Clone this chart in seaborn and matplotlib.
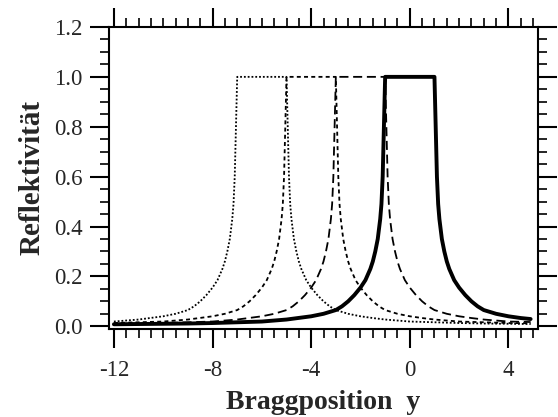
import matplotlib
matplotlib.use("Agg")
import matplotlib.pyplot as plt
import seaborn as sns
import pandas as pd
from matplotlib.ticker import MultipleLocator, FormatStrFormatter

# Curve A: solid thick, total reflection between -1 and 1
x_solid = [-12, -11, -10, -9, -8, -7, -6, -5, -4, -3.5, -3, -2.75, -2.5, -2.25, -2, -1.8,
           -1.6, -1.5, -1.4, -1.3, -1.2, -1.15, -1.1, -1.0, 1.0, 1.1, 1.15, 1.2, 1.3, 1.4,
           1.5, 1.6, 1.8, 2, 2.25, 2.5, 2.75, 3, 3.5, 4, 4.5, 4.9]
r_solid = [0.008, 0.009, 0.010, 0.011, 0.013, 0.016, 0.019, 0.027, 0.040, 0.050, 0.065, 0.080,
           0.100, 0.125, 0.155, 0.185, 0.230, 0.260, 0.300, 0.350, 0.430, 0.490, 0.600, 1.0,
           1.0, 0.600, 0.490, 0.430, 0.350, 0.300, 0.260, 0.230, 0.185, 0.155, 0.125, 0.100,
           0.080, 0.065, 0.050, 0.040, 0.033, 0.029]

# Curve B: long dashes, total reflection between -3 and -1
x_dash = [-12, -11, -10, -9, -8, -7, -6, -5.5, -5, -4.75, -4.5, -4.25, -4, -3.8, -3.6, -3.5,
          -3.4, -3.3, -3.2, -3.15, -3.1, -3.0, -1.0, -0.9, -0.85, -0.8, -0.7, -0.6, -0.5,
          -0.4, -0.2, 0, 0.25, 0.5, 0.75, 1, 1.5, 2, 2.5, 3, 4, 4.9]
r_dash = [0.010, 0.011, 0.013, 0.016, 0.019, 0.027, 0.040, 0.050, 0.065, 0.080, 0.100, 0.125,
          0.155, 0.185, 0.230, 0.260, 0.300, 0.350, 0.430, 0.490, 0.600, 1.0, 1.0, 0.600,
          0.490, 0.430, 0.350, 0.300, 0.260, 0.230, 0.185, 0.155, 0.125, 0.100, 0.080,
          0.065, 0.050, 0.040, 0.033, 0.027, 0.019, 0.017]

# Curve C: short dashes, total reflection between -5 and -3
x_sdash = [-12, -11, -10, -9, -8, -7.5, -7, -6.75, -6.5, -6.25, -6, -5.8, -5.6, -5.5, -5.4,
           -5.3, -5.2, -5.15, -5.1, -5.0, -3.0, -2.9, -2.85, -2.8, -2.7, -2.6, -2.5, -2.4,
           -2.2, -2.0, -1.75, -1.5, -1.25, -1.0, -0.5, 0, 0.5, 1, 2, 3, 4, 4.9]
r_sdash = [0.013, 0.016, 0.019, 0.027, 0.040, 0.050, 0.065, 0.080, 0.100, 0.125, 0.155, 0.185,
           0.230, 0.260, 0.300, 0.350, 0.430, 0.490, 0.600, 1.0, 1.0, 0.600, 0.490, 0.430,
           0.350, 0.300, 0.260, 0.230, 0.185, 0.155, 0.125, 0.100, 0.080, 0.065, 0.050,
           0.040, 0.033, 0.027, 0.019, 0.016, 0.013, 0.012]

# Curve D: dotted, total reflection between -7 and -5
x_dot = [-12, -11, -10, -9.5, -9, -8.75, -8.5, -8.25, -8, -7.8, -7.6, -7.5, -7.4, -7.3, -7.2,
         -7.15, -7.1, -7.0, -5.0, -4.9, -4.85, -4.8, -4.7, -4.6, -4.5, -4.4, -4.2, -4.0,
         -3.75, -3.5, -3.25, -3.0, -2.5, -2.0, -1.5, -1.0, 0, 1, 2, 3, 4, 4.9]
r_dot = [0.019, 0.027, 0.040, 0.050, 0.065, 0.080, 0.100, 0.125, 0.155, 0.185, 0.230, 0.260,
         0.300, 0.350, 0.430, 0.490, 0.600, 1.0, 1.0, 0.600, 0.490, 0.430, 0.350, 0.300,
         0.260, 0.230, 0.185, 0.155, 0.125, 0.100, 0.080, 0.065, 0.050, 0.040, 0.033,
         0.027, 0.019, 0.016, 0.013, 0.011, 0.010, 0.009]

x_ticks = [-12, -8, -4, 0, 4]
y_ticks = [0.0, 0.2, 0.4, 0.6, 0.8, 1.0, 1.2]
x_label = "Braggposition  y"
y_label = "Reflektivität"

sns.set_theme(style="ticks")
plt.rcParams["font.family"] = ["Liberation Serif", "DejaVu Serif"]
plt.rcParams["axes.unicode_minus"] = False

fig = plt.figure(figsize=(5.58, 4.17), dpi=100)
ax = fig.add_axes([0.1953, 0.211, 0.7689, 0.7243])

curves = [
    (x_dot, r_dot, dict(linewidth=1.3, dashes=(1.0, 1.1))),
    (x_sdash, r_sdash, dict(linewidth=1.3, dashes=(2.2, 1.8))),
    (x_dash, r_dash, dict(linewidth=1.3, dashes=(5.0, 2.6))),
    (x_solid, r_solid, dict(linewidth=2.8)),
]
for xs, rs, kw in curves:
    df = pd.DataFrame({"y": xs, "R": rs})
    sns.lineplot(data=df, x="y", y="R", ax=ax, color="black", sort=False,
                 estimator=None, **kw)

ax.set_xlim(-12.2, 5.2)
ax.set_ylim(-0.011, 1.2)
ax.xaxis.set_major_locator(plt.FixedLocator(x_ticks))
ax.yaxis.set_major_locator(plt.FixedLocator(y_ticks))
ax.xaxis.set_minor_locator(MultipleLocator(0.5))
ax.yaxis.set_minor_locator(MultipleLocator(0.05))
ax.yaxis.set_major_formatter(FormatStrFormatter("%.1f"))
ax.xaxis.set_major_formatter(FormatStrFormatter("%d"))

for s in ax.spines.values():
    s.set_linewidth(1.5)
    s.set_color("black")
ax.tick_params(which="both", direction="out", top=True, right=True, color="black",
               labeltop=False, labelright=False)
ax.tick_params(which="major", length=14, width=1.5, labelsize=16.5, pad=5)
ax.tick_params(which="minor", length=6.5, width=1.2)
ax.tick_params(axis="x", which="major", pad=8)

ax.set_xlabel(x_label, fontsize=20, fontweight="bold", labelpad=7)
ax.set_ylabel(y_label, fontsize=21, fontweight="bold", labelpad=6)
ax.grid(False)

fig.savefig("out.png", dpi=100)
